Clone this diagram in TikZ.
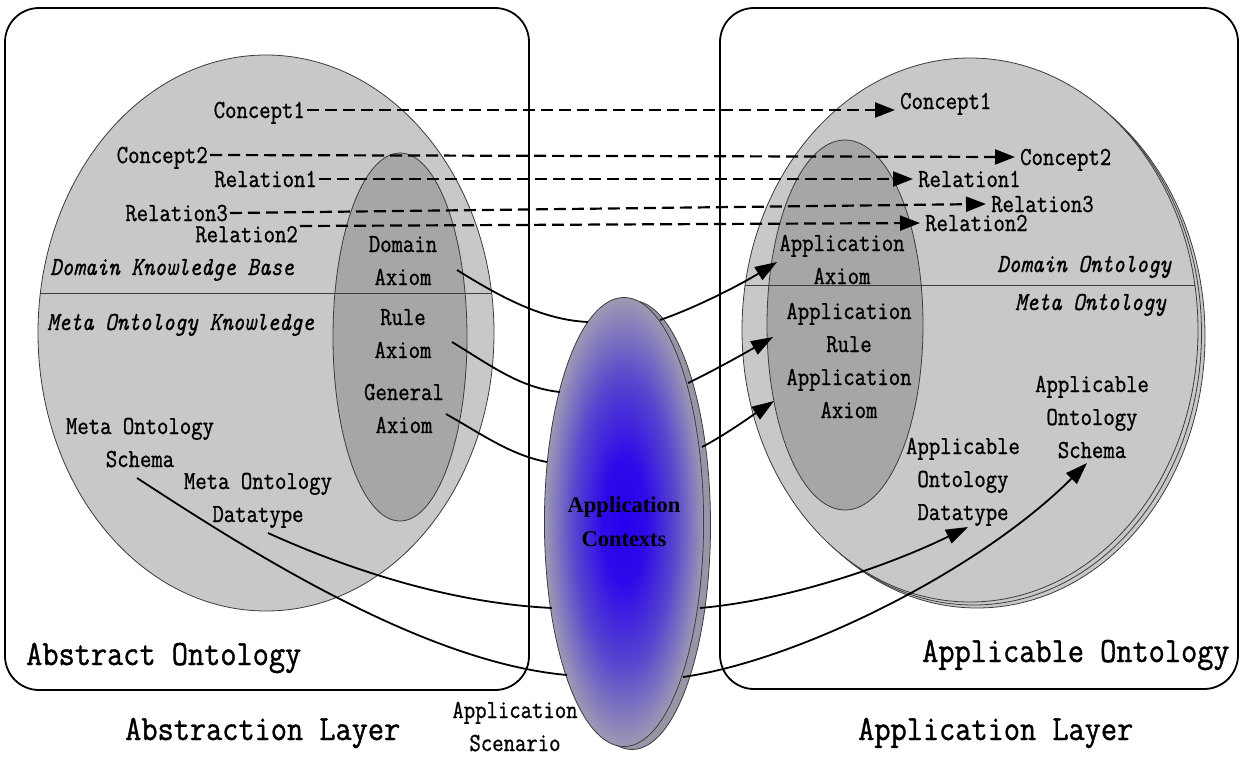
\documentclass[tikz,border=0pt]{standalone}
\usepackage{fontspec}
\newfontfamily\ctxfont{Liberation Serif}
\newfontfamily\labfont{Latin Modern Mono}[FakeBold=0.9, FakeStretch=0.85]
\newfontfamily\bigfont{Latin Modern Mono}[FakeBold=1.1, FakeStretch=0.885]
\usetikzlibrary{arrows.meta,shapes.geometric,calc}

\definecolor{outerfill}{RGB}{200,200,200}
\definecolor{innerfill}{RGB}{166,166,166}
\definecolor{rimline}{RGB}{60,60,60}
\definecolor{ctxcore}{RGB}{38,0,238}
\definecolor{ctxmid}{RGB}{88,70,206}
\definecolor{ctxedge}{RGB}{156,154,180}
\definecolor{ctxback}{RGB}{150,150,168}

\pgfdeclareradialshading{ctxshade}{\pgfpoint{0bp}{0bp}}{%
  color(0bp)=(ctxcore); color(7bp)=(ctxcore!85!ctxmid); color(16bp)=(ctxmid);
  color(25bp)=(ctxedge); color(50bp)=(ctxedge)}

\tikzset{
  layerbox/.style={draw, line width=1.8pt, rounded corners=34pt},
  outerell/.style={fill=outerfill, draw=rimline, line width=0.8pt},
  innerell/.style={fill=innerfill, draw=rimline, line width=0.8pt},
  divider/.style={draw=rimline, line width=0.9pt},
  lab/.style={font=\fontsize{26}{33}\selectfont\labfont, inner sep=0pt, align=center},
  itlab/.style={font=\fontsize{26}{33}\selectfont\labfont\itshape, inner sep=0pt},
  biglab/.style={font=\fontsize{35.5}{40}\selectfont\bigfont, inner sep=0pt},
  maplab/.style={font=\fontsize{26}{33}\selectfont\labfont, text height=16pt, text depth=0pt, inner ysep=0pt},
  srclab/.style={maplab, inner xsep=2pt},
  dstlab/.style={maplab, inner xsep=5pt},
  mapdash/.style={line width=2.2pt, dash pattern=on 12pt off 6pt,
    -{Triangle[length=20pt,width=15pt]}},
  link/.style={line width=1.8pt},
  linkarrow/.style={link, -{Triangle[length=22pt,width=15pt]}},
  ctx/.style={ellipse, minimum width=157pt, minimum height=449pt, inner sep=0pt,
    draw=rimline, line width=0.8pt, shading=ctxshade,
    font=\fontsize{22.5}{34}\selectfont\ctxfont\bfseries, align=center}
}

\begin{document}
\begin{tikzpicture}[x=1pt,y=-1pt]
\useasboundingbox (0,0) rectangle (1240,756);

% layer frames
\draw[layerbox] (5,8) rectangle (529,690);
\draw[layerbox] (720,8) rectangle (1238,689);

% abstract ontology
\draw[outerell] (266,333) ellipse [x radius=228, y radius=278];
\draw[innerell] (400,337) ellipse [x radius=67, y radius=184];
\begin{scope}
  \clip (266,333) ellipse [x radius=228, y radius=278];
  \draw[divider] (30,293) -- (500,293);
\end{scope}

% applicable ontology (stacked)
\draw[outerell] (977,336) ellipse [x radius=228, y radius=272];
\draw[outerell] (973.5,333) ellipse [x radius=228, y radius=272];
\draw[outerell] (970,330) ellipse [x radius=228, y radius=272];
\draw[innerell] (845,325) ellipse [x radius=78, y radius=185];
\begin{scope}
  \clip (970,330) ellipse [x radius=228, y radius=272];
  \draw[divider] (730,285) -- (1210,285);
\end{scope}

% application contexts
\draw[fill=ctxback, draw=rimline, line width=0.8pt] (632,525) ellipse [x radius=78.5, y radius=224.5];
\node[ctx] (ctx) at (624,522) {Application\\Contexts};

% texts of the abstract ontology (multi-line nodes sit on their last baseline)
\node[srclab, anchor=east] (c1a) at (307,110) {Concept1};
\node[srclab, anchor=east] (c2a) at (210,155) {Concept2};
\node[srclab, anchor=east] (r1a) at (319,179) {Relation1};
\node[srclab, anchor=east] (r3a) at (230,213) {Relation3};
\node[srclab, anchor=north east] (r2a) at (300,226) {Relation2};
\node[itlab, anchor=base west] (dkb) at (50,275) {Domain Knowledge Base};
\node[itlab, anchor=base west] (mok) at (47,330) {Meta Ontology Knowledge};
\node[lab, anchor=base] (dax) at (403,285) {Domain\\Axiom};
\node[lab, anchor=base] (rax) at (403,358) {Rule\\Axiom};
\node[lab, anchor=base] (gax) at (404,433) {General\\Axiom};
\node[lab, anchor=base] (mos) at (140,467) {Meta Ontology\\Schema};
\node[lab, anchor=base] (mod) at (258,522) {Meta Ontology\\Datatype};
\node[biglab, anchor=base west] (abo) at (26,665) {Abstract Ontology};
\node[biglab, anchor=base west] (abl) at (125,740) {Abstraction Layer};
\node[lab, anchor=base] (scn) at (515,751) {Application\\Scenario};

% texts of the applicable ontology
\node[dstlab, anchor=west] (c1b) at (895,101) {Concept1};
\node[dstlab, anchor=west] (c2b) at (1015,157) {Concept2};
\node[dstlab, anchor=west] (r1b) at (913,179) {Relation1};
\node[dstlab, anchor=west] (r3b) at (986,204) {Relation3};
\node[dstlab, anchor=west] (r2b) at (920,223) {Relation2};
\node[itlab, anchor=base west] (don) at (997,272) {Domain Ontology};
\node[itlab, anchor=base west] (mon) at (1015,310) {Meta Ontology};
\node[lab, anchor=base] (aax) at (842,284) {Application\\Axiom};
\node[lab, anchor=base] (arx) at (849,418) {Application\\Rule\\Application\\Axiom};
\node[lab, anchor=base] (aos) at (1092,458) {Applicable\\Ontology\\Schema};
\node[lab, anchor=base] (aod) at (963,520) {Applicable\\Ontology\\Datatype};
\node[biglab, anchor=base west] (apo) at (922,662) {Applicable Ontology};
\node[biglab, anchor=base west] (apl) at (858,740) {Application Layer};

% concept and relation mappings
\draw[mapdash] (c1a.east) -- (c1a.east -| c1b.west);
\draw[mapdash] (c2a.east) -- (c2b.west);
\draw[mapdash] (r1a.east) -- (r1b.west);
\draw[mapdash] (r3a.east) -- (r3b.west);
\draw[mapdash] (r2a.north east) -- (r2b.west);

% ends of the context links
\coordinate (s1) at (457,270);  \coordinate (e1) at (588,322);
\coordinate (s2) at (452,342);  \coordinate (e2) at (560,392);
\coordinate (s3) at (446,414);  \coordinate (e3) at (547,462);
\coordinate (s4) at (268,533);  \coordinate (e4) at (552,608);
\coordinate (s5) at (137,478);  \coordinate (e5) at (567,675);
\coordinate (f1) at (660,320);  \coordinate (t1) at (777,262);
\coordinate (f2) at (688,383);  \coordinate (t2) at (773,337);
\coordinate (f3) at (702,447);  \coordinate (t3) at (774,401);
\coordinate (f4) at (700,608);  \coordinate (t4) at (968,527);
\coordinate (f5) at (683,677);  \coordinate (t5) at (1087,463);

% links into the application contexts
\draw[link] (s1) .. controls (505,300) and (545,320) .. (e1);
\draw[link] (s2) .. controls (490,365) and (520,388) .. (e2);
\draw[link] (s3) .. controls (480,433) and (510,455) .. (e3);
\draw[link] (s4) .. controls (350,570) and (450,603) .. (e4);
\draw[link] (s5) .. controls (240,545) and (420,662) .. (e5);

% links out of the application contexts
\draw[linkarrow] (f1) .. controls (695,308) and (740,285) .. (t1);
\draw[linkarrow] (f2) .. controls (715,370) and (745,353) .. (t2);
\draw[linkarrow] (f3) .. controls (725,435) and (750,417) .. (t3);
\draw[linkarrow] (f4) .. controls (790,600) and (890,565) .. (t4);
\draw[linkarrow] (f5) .. controls (800,660) and (980,570) .. (t5);
\end{tikzpicture}
\end{document}
